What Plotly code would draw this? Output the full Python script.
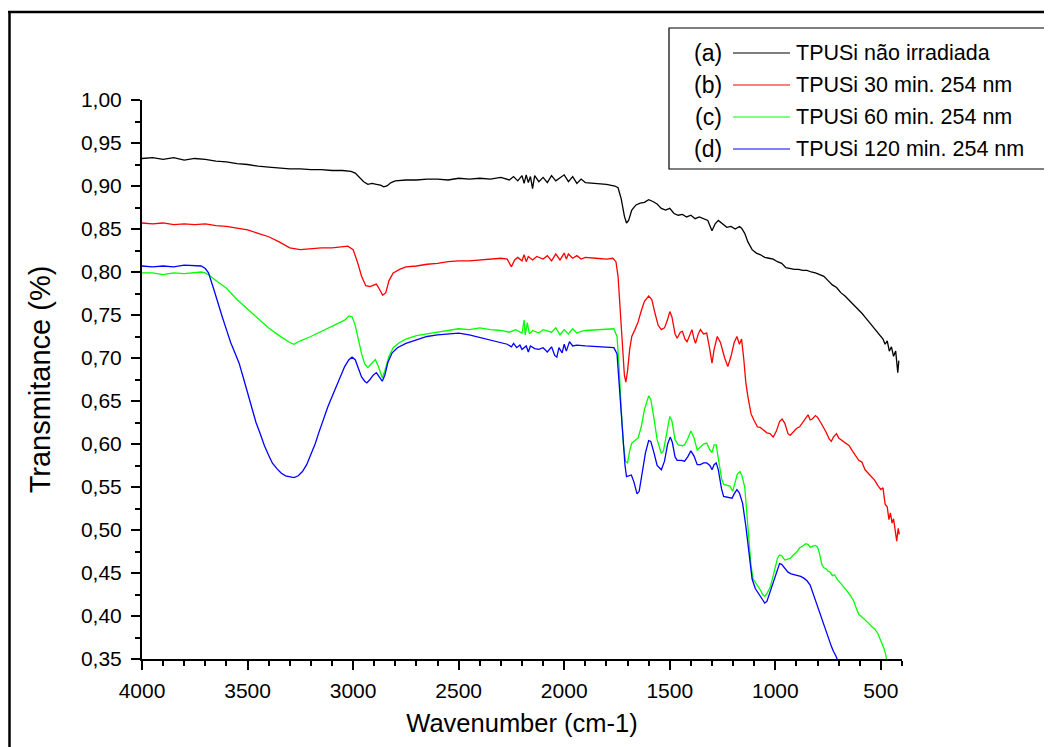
import plotly.graph_objects as go

# ---------------- data ----------------
a_x = [4000, 3950, 3900, 3850, 3800, 3750, 3700, 3650, 3600, 3550, 3500, 3450, 3400, 3350, 3300, 3250, 3200, 3150, 3100, 3050,
       3010, 2990, 2970, 2950, 2930, 2910, 2890, 2870, 2855, 2840, 2820, 2800, 2750, 2700, 2650, 2600, 2550, 2500, 2450, 2400,
       2350, 2300, 2260, 2240, 2220, 2200, 2190, 2180, 2170, 2160, 2150, 2140, 2120, 2100, 2080, 2060, 2040, 2020, 2000, 1980,
       1960, 1940, 1920, 1900, 1850, 1800, 1760, 1745, 1730, 1715, 1705, 1695, 1680, 1660, 1640, 1620, 1600, 1580, 1560, 1540,
       1520, 1500, 1480, 1460, 1440, 1420, 1400, 1380, 1360, 1340, 1320, 1300, 1285, 1270, 1250, 1230, 1210, 1190, 1170, 1160,
       1145, 1130, 1110, 1090, 1070, 1050, 1030, 1010, 990, 970, 950, 930, 910, 890, 870, 850, 830, 810, 790, 770,
       750, 730, 710, 690, 670, 650, 630, 610, 590, 570, 550, 530, 510, 490, 480, 470, 460, 450, 440, 430, 420, 415]
a_y = [.932, .933, .931, .933, .930, .932, .931, .929, .928, .926, .925, .923, .922, .921, .920, .920, .919, .919, .918, .918,
       .917, .915, .910, .905, .902, .903, .902, .901, .899, .900, .904, .906, .907, .907, .908, .908, .907, .909, .908, .909,
       .908, .910, .907, .911, .906, .912, .903, .913, .904, .911, .897, .912, .905, .910, .904, .912, .906, .909, .913, .905,
       .911, .903, .908, .904, .903, .902, .900, .898, .885, .865, .857, .860, .872, .878, .880, .881, .884, .882, .879, .874,
       .872, .874, .868, .866, .867, .864, .866, .862, .864, .862, .860, .848, .856, .860, .856, .852, .853, .850, .853, .851,
       .845, .835, .826, .822, .820, .817, .816, .815, .812, .810, .805, .804, .803, .803, .802, .802, .800, .799, .797, .795,
       .790, .785, .782, .776, .772, .767, .763, .758, .752, .746, .740, .734, .728, .722, .716, .720, .708, .713, .702, .708, .683, .697]

b_x = [4000, 3950, 3900, 3850, 3800, 3750, 3700, 3650, 3600, 3550, 3500, 3450, 3400, 3350, 3300, 3250, 3200, 3150, 3100, 3050,
       3025, 3000, 2980, 2960, 2940, 2920, 2900, 2890, 2875, 2860, 2845, 2830, 2810, 2780, 2750, 2700, 2650, 2600, 2550, 2500,
       2450, 2400, 2350, 2300, 2270, 2250, 2235, 2220, 2200, 2190, 2180, 2170, 2150, 2130, 2100, 2080, 2060, 2040, 2020, 2000,
       1990, 1980, 1960, 1940, 1920, 1900, 1850, 1800, 1770, 1755, 1745, 1735, 1725, 1715, 1708, 1700, 1690, 1680, 1665, 1650,
       1635, 1620, 1600, 1585, 1570, 1555, 1540, 1525, 1510, 1500, 1490, 1475, 1465, 1450, 1440, 1428, 1418, 1405, 1395, 1385,
       1378, 1365, 1355, 1340, 1325, 1312, 1300, 1290, 1275, 1260, 1240, 1225, 1210, 1195, 1182, 1170, 1160, 1150, 1140, 1130,
       1115, 1100, 1085, 1070, 1055, 1040, 1025, 1010, 995, 980, 968, 955, 940, 930, 915, 900, 885, 870, 855, 845,
       835, 825, 810, 800, 785, 772, 760, 745, 735, 725, 710, 700, 690, 670, 650, 635, 620, 605, 590, 575,
       560, 545, 530, 515, 500, 490, 480, 470, 462, 455, 447, 440, 432, 425, 418, 413]
b_y = [.857, .856, .857, .855, .856, .855, .856, .854, .853, .851, .849, .845, .841, .835, .828, .826, .827, .828, .828, .829,
       .830, .826, .812, .795, .784, .783, .785, .786, .780, .773, .776, .790, .799, .803, .806, .807, .809, .810, .812, .813,
       .813, .814, .815, .816, .815, .806, .814, .817, .813, .820, .812, .818, .814, .818, .815, .819, .813, .821, .814, .822,
       .815, .821, .816, .819, .815, .817, .816, .815, .816, .812, .795, .760, .715, .680, .672, .685, .710, .725, .733, .742,
       .755, .766, .772, .768, .752, .738, .733, .735, .745, .754, .748, .728, .723, .730, .731, .722, .719, .728, .733, .722,
       .717, .728, .733, .728, .729, .712, .694, .710, .725, .718, .700, .690, .702, .718, .725, .716, .722, .700, .672, .655,
       .635, .627, .620, .619, .616, .613, .612, .608, .615, .626, .629, .624, .612, .610, .614, .618, .620, .625, .630, .634,
       .628, .629, .633, .631, .625, .620, .614, .606, .603, .608, .612, .607, .605, .602, .598, .592, .586, .581, .579, .570,
       .566, .562, .558, .552, .547, .549, .530, .527, .512, .520, .508, .513, .496, .487, .502, .495]

c_x = [4000, 3950, 3900, 3850, 3800, 3750, 3720, 3700, 3680, 3650, 3600, 3550, 3500, 3450, 3400, 3350, 3300, 3280, 3250, 3200,
       3150, 3100, 3060, 3040, 3020, 3005, 2990, 2975, 2960, 2945, 2930, 2915, 2895, 2880, 2862, 2850, 2830, 2810, 2780, 2750,
       2700, 2650, 2600, 2550, 2500, 2450, 2400, 2350, 2300, 2260, 2230, 2200, 2190, 2185, 2175, 2165, 2150, 2120, 2100, 2060,
       2040, 2020, 2000, 1980, 1960, 1940, 1920, 1900, 1850, 1800, 1765, 1750, 1740, 1730, 1720, 1710, 1700, 1690, 1680, 1665,
       1650, 1635, 1620, 1600, 1590, 1575, 1560, 1540, 1530, 1515, 1500, 1490, 1475, 1460, 1440, 1430, 1415, 1400, 1385, 1370,
       1355, 1340, 1325, 1310, 1300, 1290, 1280, 1270, 1255, 1245, 1230, 1215, 1202, 1190, 1180, 1168, 1158, 1145, 1135, 1125,
       1115, 1105, 1090, 1080, 1070, 1060, 1050, 1040, 1025, 1015, 1000, 990, 980, 970, 955, 940, 930, 915, 900, 885,
       870, 855, 845, 835, 825, 810, 800, 790, 780, 770, 760, 750, 740, 730, 720, 705, 690, 675, 660, 645,
       630, 615, 605, 595, 585, 575, 560, 545, 530, 515, 505, 495, 485, 477, 470]
c_y = [.799, .799, .797, .799, .798, .799, .800, .799, .796, .790, .781, .768, .757, .746, .735, .726, .718, .716, .720, .725,
       .731, .737, .741, .744, .749, .748, .738, .722, .705, .693, .689, .693, .698, .690, .677, .685, .702, .712, .718, .722,
       .726, .728, .730, .732, .734, .733, .735, .733, .732, .730, .733, .729, .744, .727, .741, .728, .732, .729, .733, .730,
       .735, .727, .733, .728, .734, .729, .731, .732, .733, .734, .734, .725, .690, .640, .600, .580, .578, .592, .601, .604,
       .607, .620, .640, .656, .652, .630, .605, .589, .592, .612, .632, .627, .605, .599, .598, .599, .606, .615, .607, .593,
       .596, .600, .601, .593, .590, .599, .599, .585, .560, .553, .552, .551, .545, .555, .565, .568, .563, .550, .520, .485,
       .458, .443, .438, .434, .430, .425, .423, .426, .433, .442, .458, .467, .471, .470, .465, .466, .467, .471, .474, .479,
       .482, .484, .483, .480, .481, .482, .480, .472, .460, .456, .455, .452, .451, .447, .448, .442, .438, .434, .429, .424,
       .418, .408, .402, .400, .398, .395, .392, .388, .385, .380, .373, .368, .362, .355, .345]

d_x = [4000, 3950, 3900, 3850, 3800, 3750, 3720, 3700, 3685, 3660, 3640, 3620, 3600, 3580, 3560, 3540, 3520, 3500, 3480, 3460,
       3440, 3420, 3400, 3383, 3360, 3340, 3320, 3300, 3280, 3260, 3240, 3220, 3200, 3180, 3160, 3140, 3120, 3100, 3080, 3060,
       3040, 3020, 3005, 2990, 2975, 2960, 2945, 2935, 2920, 2905, 2890, 2875, 2862, 2850, 2835, 2815, 2790, 2750, 2700, 2650,
       2600, 2550, 2500, 2450, 2400, 2350, 2300, 2270, 2250, 2240, 2225, 2210, 2200, 2180, 2170, 2160, 2140, 2120, 2100, 2080,
       2060, 2045, 2035, 2025, 2010, 2000, 1990, 1975, 1960, 1940, 1900, 1850, 1800, 1765, 1750, 1740, 1730, 1720, 1712, 1705,
       1695, 1682, 1670, 1655, 1645, 1630, 1615, 1600, 1590, 1575, 1560, 1540, 1525, 1510, 1498, 1488, 1475, 1465, 1445, 1430,
       1415, 1400, 1385, 1370, 1355, 1340, 1325, 1310, 1300, 1290, 1280, 1270, 1255, 1245, 1230, 1215, 1205, 1195, 1182, 1170,
       1155, 1140, 1125, 1110, 1095, 1080, 1065, 1050, 1040, 1025, 1010, 995, 980, 970, 955, 940, 925, 910, 895, 880,
       865, 850, 835, 820, 805, 790, 775, 760, 745, 735, 725, 712, 700]
d_y = [.807, .806, .807, .806, .808, .807, .807, .804, .799, .780, .763, .748, .733, .718, .706, .694, .677, .660, .642, .625,
       .612, .598, .587, .578, .571, .566, .563, .562, .561, .563, .568, .576, .587, .600, .615, .630, .643, .655, .667, .680,
       .690, .698, .701, .698, .688, .678, .673, .671, .675, .680, .683, .678, .673, .680, .695, .706, .712, .717, .721, .725,
       .727, .728, .729, .727, .724, .721, .718, .716, .713, .717, .712, .715, .710, .714, .707, .714, .711, .710, .712, .707,
       .713, .703, .701, .712, .706, .716, .708, .719, .714, .715, .714, .713, .712, .712, .705, .670, .630, .595, .575, .562,
       .563, .564, .556, .542, .545, .568, .590, .604, .603, .590, .575, .570, .580, .600, .608, .602, .585, .581, .581, .580,
       .585, .592, .586, .576, .576, .578, .578, .575, .570, .576, .578, .570, .548, .539, .538, .537, .537, .542, .547, .543,
       .531, .505, .470, .443, .432, .426, .420, .415, .417, .428, .440, .452, .461, .460, .455, .451, .449, .448, .447, .446,
       .444, .441, .436, .425, .415, .404, .393, .381, .372, .365, .359, .353, .345]

series_names = ["TPUSi não irradiada", "TPUSi 30 min. 254 nm", "TPUSi 60 min. 254 nm", "TPUSi 120 min. 254 nm"]
series_tags = ["(a)", "(b)", "(c)", "(d)"]
series_colors = ["#000000", "#ff0000", "#00ff00", "#0000ff"]
series_x = [a_x, b_x, c_x, d_x]
series_y = [a_y, b_y, c_y, d_y]

x_range = [4000, 400]
y_range = [0.35, 1.00]

# ---------------- figure ----------------
OFF = 8  # page body margin
W, H = 1044, 739
L, R, T, B = 134, 150, 92, 88
PW, PH = W - L - R, H - T - B
FONT = "Liberation Sans, Arial, sans-serif"


def px(sx):
    """screen x pixel -> paper coordinate"""
    return (sx - OFF - L) / PW


def py(sy):
    """screen y pixel -> paper coordinate"""
    return (H - B - (sy - OFF)) / PH


fig = go.Figure()
for xs, ys, col, nm in zip(series_x, series_y, series_colors, series_names):
    fig.add_trace(go.Scatter(x=xs, y=ys, mode="lines", name=nm,
                             line=dict(color=col, width=1.3), showlegend=False))

shapes = []
annotations = []
# outer frame (top and left edges visible)
shapes.append(dict(type="line", xref="paper", yref="paper", x0=px(8), x1=px(1070), y0=py(12), y1=py(12),
                   line=dict(color="black", width=2.5)))
shapes.append(dict(type="line", xref="paper", yref="paper", x0=px(9.5), x1=px(9.5), y0=py(12), y1=py(770),
                   line=dict(color="black", width=2.5)))
# legend box
shapes.append(dict(type="rect", xref="paper", yref="paper", x0=px(669), x1=px(1046), y0=py(28), y1=py(169),
                   line=dict(color="black", width=1.2), fillcolor="white", layer="above"))
rows = [53, 85, 117, 149]
for r, tag, nm, col in zip(rows, series_tags, series_names, series_colors):
    shapes.append(dict(type="line", xref="paper", yref="paper", x0=px(733), x1=px(790), y0=py(r), y1=py(r),
                       line=dict(color=col, width=1.2), layer="above"))
    annotations.append(dict(xref="paper", yref="paper", x=px(724), y=py(r), text=tag, showarrow=False,
                            xanchor="right", yanchor="middle", font=dict(family=FONT, size=23, color="black")))
    annotations.append(dict(xref="paper", yref="paper", x=px(794), y=py(r), text=nm, showarrow=False,
                            xanchor="left", yanchor="middle", font=dict(family=FONT, size=21.5, color="black")))

axis_common = dict(showgrid=False, zeroline=False, showline=True, linecolor="black", linewidth=2,
                   ticks="outside", ticklen=9, tickwidth=2, tickcolor="black", mirror=False,
                   tickfont=dict(family=FONT, size=21, color="black"))

fig.update_layout(
    width=W, height=H, margin=dict(l=L, r=R, t=T, b=B, pad=0),
    paper_bgcolor="white", plot_bgcolor="white",
    separators=",.",
    showlegend=False,
    shapes=shapes, annotations=annotations,
    xaxis=dict(range=x_range, tickmode="linear", tick0=0, dtick=500, ticklabelstandoff=3,
               minor=dict(ticks="outside", ticklen=5, tickwidth=2, tickcolor="black", dtick=100, tick0=0),
               title=dict(text="Wavenumber (cm-1)", font=dict(family=FONT, size=25.5, color="black"), standoff=13),
               **axis_common),
    yaxis=dict(range=y_range, tickmode="linear", tick0=0, dtick=0.05, tickformat=".2f", ticklabelstandoff=5,
               minor=dict(ticks="outside", ticklen=5, tickwidth=2, tickcolor="black", dtick=0.025, tick0=0),
               title=dict(text="Transmitance (%)", font=dict(family=FONT, size=29, color="black"), standoff=22),
               **axis_common),
)

fig.write_html("out.html")
